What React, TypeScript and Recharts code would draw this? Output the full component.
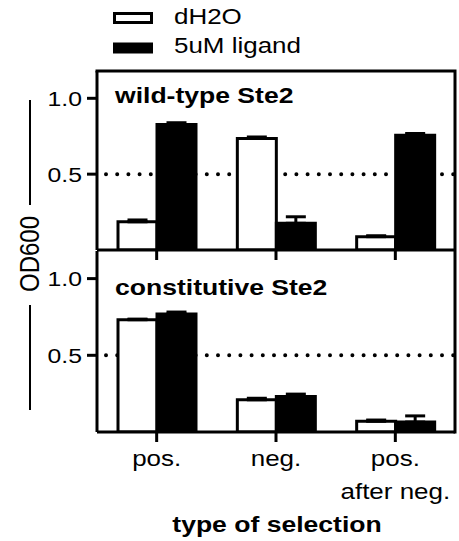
import { BarChart, Bar, XAxis, YAxis, ReferenceLine, ErrorBar } from "recharts"

// categories + tick labels
const categories = ["pos.", "neg.", "pos. after neg."]
const tickLines = [["pos."], ["neg."], ["pos.", "after neg."]]
const yTicks = [0.5, 1.0]

// wild-type Ste2
const wtWater = [0.186, 0.735, 0.088]
const wtWaterErr = [0.012, 0.01, 0.006]
const wtLigand = [0.827, 0.176, 0.757]
const wtLigandErr = [0.012, 0.043, 0.011]

// constitutive Ste2
const caWater = [0.732, 0.21, 0.07]
const caWaterErr = [0.004, 0.01, 0.008]
const caLigand = [0.77, 0.232, 0.065]
const caLigandErr = [0.012, 0.015, 0.04]

const buildRows = (water: number[], waterErr: number[], ligand: number[], ligandErr: number[]) =>
  categories.map((cat, i) => ({
    cat,
    water: water[i],
    waterErr: [0, waterErr[i]],
    ligand: ligand[i],
    ligandErr: [0, ligandErr[i]],
  }))

const wtRows = buildRows(wtWater, wtWaterErr, wtLigand, wtLigandErr)
const caRows = buildRows(caWater, caWaterErr, caLigand, caLigandErr)

const FONT = "'Liberation Sans', Arial, sans-serif"
const SX = 1.18 // text in the original is a bit stretched sideways
const DOMAIN: [number, number] = [0, 1.18]
const axisStyle = { stroke: "#000", strokeWidth: 3 }

function Txt({ x, y, size = 22, bold = false, anchor = "start", rotate = false, children }: any) {
  return (
    <text
      transform={`translate(${x},${y}) scale(${SX},1)${rotate ? " rotate(-90)" : ""}`}
      fontSize={size}
      fontWeight={bold ? "bold" : "normal"}
      textAnchor={anchor}
      fontFamily={FONT}
      fill="#000"
    >
      {children}
    </text>
  )
}

const YTick = (props: any) => {
  const { x, y, payload } = props
  return (
    <Txt x={x} y={y + 7.5} size={21} anchor="end">
      {Number(payload.value).toFixed(1)}
    </Txt>
  )
}

const XTick = (props: any) => {
  const { x, y, payload } = props
  const lines = tickLines[categories.indexOf(payload.value)] || [payload.value]
  return (
    <g>
      {lines.map((l, i) => (
        <Txt key={i} x={x} y={y + 22 + i * 33} anchor="middle">
          {l}
        </Txt>
      ))}
    </g>
  )
}

const NoTick = () => <g />

interface PanelProps {
  data: ReturnType<typeof buildRows>
  height: number
  marginTop: number
  xHeight: number
  labels: boolean
}

function Panel({ data, height, marginTop, xHeight, labels }: PanelProps) {
  return (
    <BarChart
      width={459}
      height={height}
      data={data}
      margin={{ top: marginTop, right: 4, bottom: 0, left: 0 }}
      barSize={39}
      barGap={0}
    >
      <XAxis
        dataKey="cat"
        height={xHeight}
        axisLine={axisStyle}
        tickLine={axisStyle}
        tickSize={10}
        tickMargin={2}
        tick={labels ? XTick : NoTick}
        interval={0}
      />
      <YAxis
        width={97}
        domain={DOMAIN}
        ticks={yTicks}
        allowDataOverflow
        axisLine={axisStyle}
        tickLine={axisStyle}
        tickSize={10}
        tickMargin={5}
        tick={YTick}
      />
      <ReferenceLine
        y={0.5}
        stroke="#000"
        strokeWidth={4}
        strokeDasharray="0 11.2"
        strokeDashoffset={2.2}
        strokeLinecap="round"
        zIndex={-10}
      />
      <Bar dataKey="water" fill="#fff" stroke="#000" strokeWidth={3} isAnimationActive={false}>
        <ErrorBar dataKey="waterErr" direction="y" width={10} stroke="#000" strokeWidth={3} />
      </Bar>
      <Bar dataKey="ligand" fill="#000" stroke="#000" strokeWidth={3} isAnimationActive={false}>
        <ErrorBar dataKey="ligandErr" direction="y" width={10} stroke="#000" strokeWidth={3} />
      </Bar>
    </BarChart>
  )
}

export default function App() {
  return (
    <div style={{ position: "absolute", left: 0, top: 0, width: 459, height: 541, background: "#fff" }}>
      <div style={{ position: "absolute", left: 0, top: 0 }}>
        <Panel data={wtRows} height={260} marginTop={71} xHeight={10} labels={false} />
      </div>
      <div style={{ position: "absolute", left: 0, top: 240 }}>
        <Panel data={caRows} height={301} marginTop={11} xHeight={109} labels={true} />
      </div>
      <svg width={459} height={541} style={{ position: "absolute", left: 0, top: 0, pointerEvents: "none" }}>
        {/* frame: top and right edges of the plot box */}
        <polyline points="95.5,71 455,71 455,433.5" fill="none" stroke="#000" strokeWidth={3} />
        {/* legend */}
        <rect x={114.5} y={13.5} width={37} height={9} fill="#fff" stroke="#000" strokeWidth={3} />
        <rect x={113} y={42.5} width={40} height={11} fill="#000" />
        <Txt x={174} y={24}>dH2O</Txt>
        <Txt x={174} y={53}>5uM ligand</Txt>
        {/* panel titles */}
        <Txt x={115} y={103} size={22.5} bold>wild-type Ste2</Txt>
        <Txt x={115} y={295} size={22.5} bold>constitutive Ste2</Txt>
        {/* y label */}
        <line x1={30} y1={100} x2={30} y2={205} stroke="#000" strokeWidth={2} />
        <line x1={30} y1={305} x2={30} y2={410} stroke="#000" strokeWidth={2} />
        <Txt x={39} y={254} size={24} anchor="middle" rotate>OD600</Txt>
        {/* x label */}
        <Txt x={277} y={532} size={22.5} bold anchor="middle">type of selection</Txt>
      </svg>
    </div>
  )
}
